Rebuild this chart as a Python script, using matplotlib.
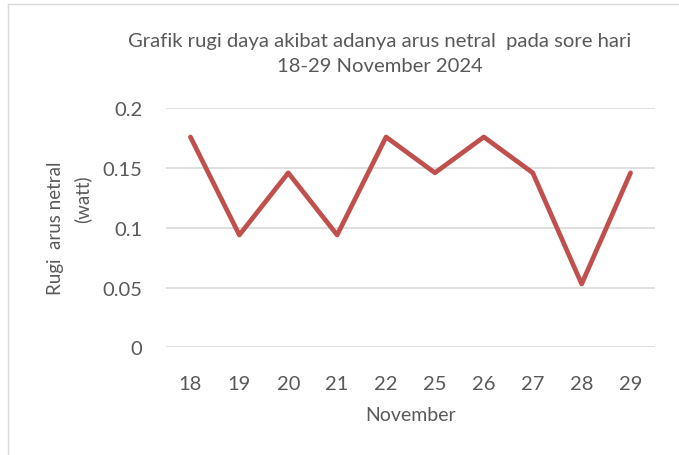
import matplotlib.pyplot as plt
from matplotlib.lines import Line2D

days = ["18", "19", "20", "21", "22", "25", "26", "27", "28", "29"]
rugi = [0.176, 0.094, 0.146, 0.094, 0.176, 0.146, 0.176, 0.146, 0.053, 0.146]
y_ticks = [0, 0.05, 0.1, 0.15, 0.2]
y_tick_labels = ["0", "0.05", "0.1", "0.15", "0.2"]

text_color = "#595959"
plt.rcParams["font.family"] = ["Lato", "DejaVu Sans"]

fig = plt.figure(figsize=(6.79, 4.56), dpi=100)
ax = fig.add_axes([166 / 679, 1 - 348.3 / 456, 489 / 679, 239 / 456])

x = list(range(len(days)))
ax.plot(x, rugi, color="#C0504D", linewidth=3.4, solid_capstyle="round", solid_joinstyle="round", zorder=3)

ax.set_xlim(-0.5, len(days) - 0.5)
ax.set_ylim(0, 0.2)
ax.set_xticks(x)
ax.set_xticklabels(days)
ax.set_yticks(y_ticks)
ax.set_yticklabels(y_tick_labels)
ax.grid(axis="y", color="#D9D9D9", linewidth=1.2)
ax.set_axisbelow(True)
for s in ax.spines.values():
    s.set_visible(False)
ax.tick_params(length=0, labelsize=14.5, colors=text_color)
ax.tick_params(axis="x", pad=20)
ax.tick_params(axis="y", pad=17)

ax.set_xlabel("November", fontsize=14, color=text_color, labelpad=10)
# y label: two lines, the second one shifted up as in the original
fig.text(55 / 679, 1 - 228 / 456, "Rugi  arus netral", rotation=90,
         ha="center", va="center", fontsize=13.5, color=text_color)
fig.text(82 / 679, 1 - 199 / 456, "(watt)", rotation=90,
         ha="center", va="center", fontsize=13.5, color=text_color)
fig.text(380 / 679, 1 - 42 / 456, "Grafik rugi daya akibat adanya arus netral  pada sore hari",
         ha="center", va="center", fontsize=14.6, color=text_color)
fig.text(380 / 679, 1 - 67 / 456, "18-29 November 2024",
         ha="center", va="center", fontsize=14.6, color=text_color)

# chart border
fig.add_artist(Line2D([8 / 679, 1], [1 - 4.5 / 456] * 2, color="#D9D9D9", linewidth=1, transform=fig.transFigure))
fig.add_artist(Line2D([8 / 679] * 2, [0, 1 - 4.5 / 456], color="#D9D9D9", linewidth=1, transform=fig.transFigure))

fig.savefig("out.png", dpi=100)
